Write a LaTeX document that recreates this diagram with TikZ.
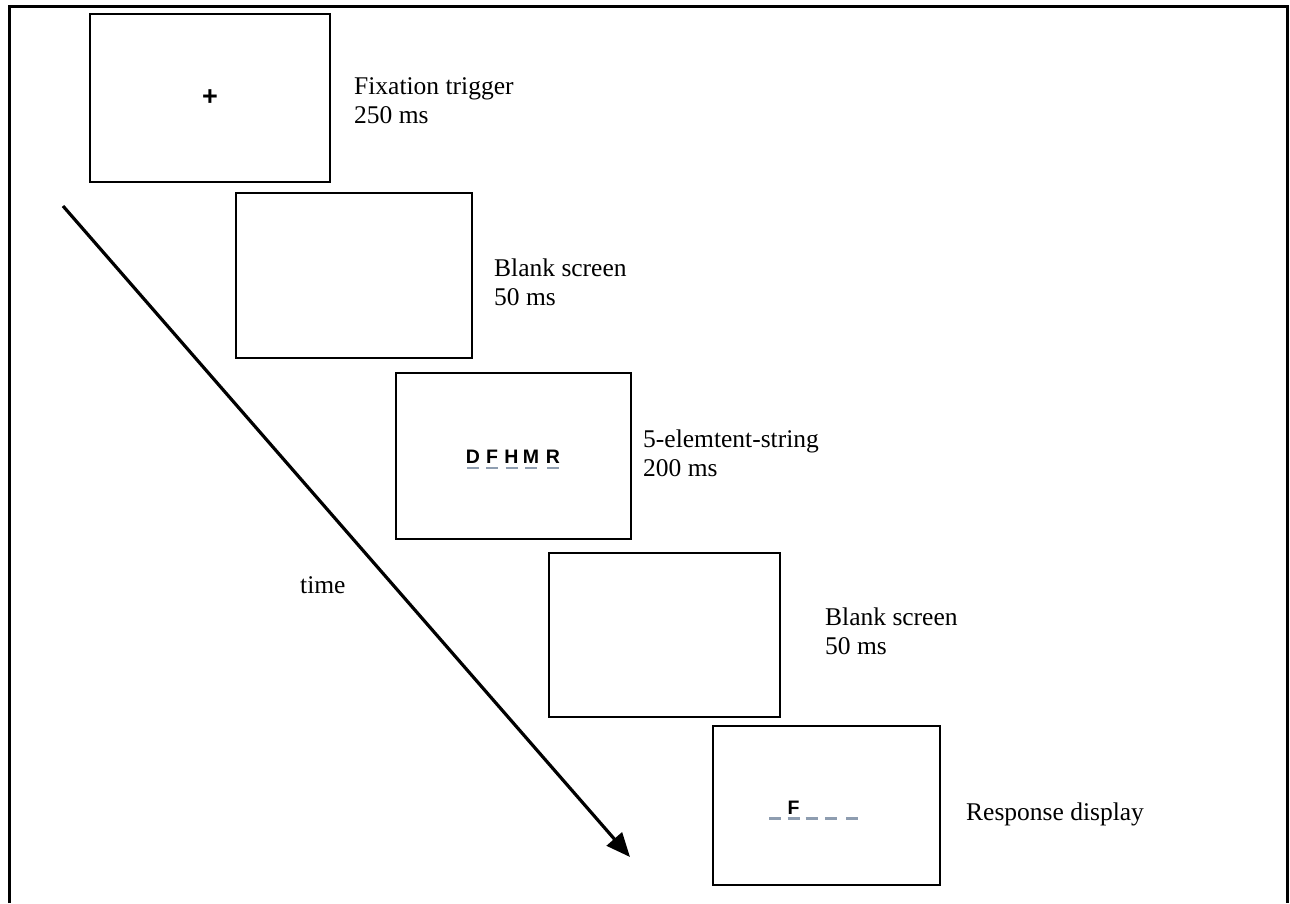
\documentclass[tikz,border=0pt]{standalone}
\usepackage{fontspec}
\setmainfont{Liberation Serif}
\newfontfamily\arialf{Liberation Sans}
\usetikzlibrary{arrows.meta}
\definecolor{dashblue}{HTML}{8E9DB0}
\tikzset{
  screen/.style={draw=black, line width=1.8pt, fill=white, inner sep=0pt},
  lbl/.style={anchor=base west, inner sep=0pt, font=\fontsize{25.5}{29}\selectfont},
  ltr/.style={inner sep=0pt, font=\arialf\bfseries\fontsize{19.5}{19.5}\selectfont},
  slot/.style={draw=dashblue, line width=2.8pt},
}
\begin{document}
\begin{tikzpicture}[x=1pt,y=-1pt]
\useasboundingbox (0,0) rectangle (1290,903);
% outer frame
\draw[line width=3pt] (9,903) -- (9,6) -- (1287,6) -- (1287,903);
% screens
\node[screen, minimum width=240pt, minimum height=168pt] (s1) at (210,98) {};
\node[screen, minimum width=236pt, minimum height=165pt] (s2) at (354,275.5) {};
\node[screen, minimum width=235pt, minimum height=166pt] (s3) at (513.5,456) {};
\node[screen, minimum width=231pt, minimum height=164pt] (s4) at (664.5,635) {};
\node[screen, minimum width=227pt, minimum height=159pt] (s5) at (826.5,805.5) {};
% fixation cross
\node[inner sep=0pt, font=\arialf\bfseries\fontsize{27}{27}\selectfont] (plus) at (210,97.5) {+};
% letter string
\foreach \l/\x [count=\i] in {D/473,F/492,H/511.5,M/531,R/553}{
  \node[ltr] (c\i) at (\x,456.5) {\l};
  \draw[slot] (\x-6,468) -- (\x+6,468);
}
% response display
\node[ltr] (rf) at (793.5,807.5) {F};
\foreach \x in {775,793.5,811.5,831,852}{
  \draw[slot] (\x-6,818.5) -- (\x+6,818.5);
}
% labels
\node[lbl] (t1a) at (354,94) {Fixation trigger};
\node[lbl] (t1b) at (354,123) {250 ms};
\node[lbl] (t2a) at (494,276) {Blank screen};
\node[lbl] (t2b) at (494,305) {50 ms};
\node[lbl] (t3a) at (643,447) {5-elemtent-string};
\node[lbl] (t3b) at (643,476) {200 ms};
\node[lbl] (t4a) at (825,625) {Blank screen};
\node[lbl] (t4b) at (825,654) {50 ms};
\node[lbl] (t5) at (966,820) {Response display};
\node[lbl] (tt) at (300,593) {time};
% time arrow
\coordinate (a0) at (63,206);
\coordinate (a1) at (630,857);
\draw[line width=3.2pt, -{Triangle[length=24pt,width=20pt]}] (a0) -- (a1);
\end{tikzpicture}
\end{document}
